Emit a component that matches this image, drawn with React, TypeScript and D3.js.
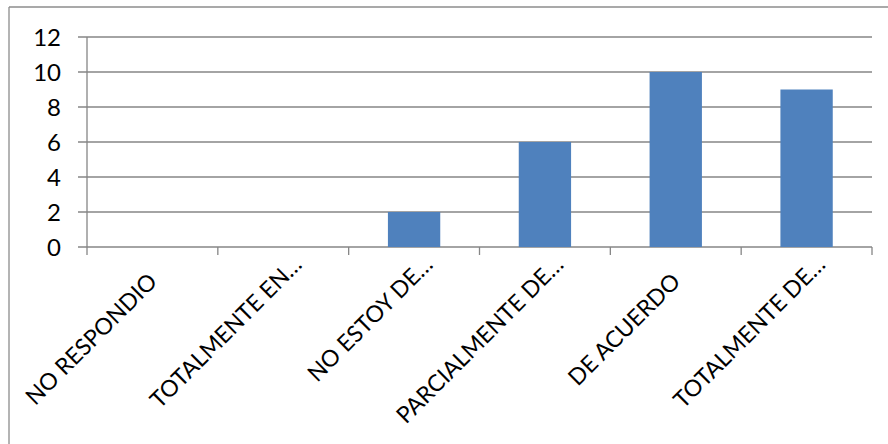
import React from "react";
import * as d3 from "d3";

const categories = [
  "NO RESPONDIO",
  "TOTALMENTE EN…",
  "NO ESTOY DE…",
  "PARCIALMENTE DE…",
  "DE ACUERDO",
  "TOTALMENTE DE…",
];
const values = [0, 0, 2, 6, 10, 9];
const yTicks = [0, 2, 4, 6, 8, 10, 12];

const W = 888;
const H = 444;
const plot = { left: 87, right: 872, top: 37, bottom: 247 };
const FONT = "Lato, 'Noto Sans', sans-serif";
const FS = 24;
const CAT_FS = 23;

export default function App() {
  const x = d3
    .scaleBand<string>()
    .domain(categories)
    .range([plot.left, plot.right])
    .padding(0);
  const y = d3.scaleLinear().domain([0, 12]).range([plot.bottom, plot.top]);
  const bw = x.bandwidth() * 0.4;
  const grid = "#868686";

  return (
    <svg
      width={W}
      height={H}
      style={{ position: "absolute", left: 0, top: 0, background: "#fff" }}
    >
      {/* outer frame (left and top edges) */}
      <line x1={9} y1={7} x2={W} y2={7} stroke="#8c8c8c" strokeWidth={1.3} />
      <line x1={9} y1={7} x2={9} y2={H} stroke="#8c8c8c" strokeWidth={1.3} />

      {/* horizontal gridlines and y labels */}
      {yTicks.map((t) => (
        <g key={t}>
          <line
            x1={plot.left - 9}
            x2={plot.right}
            y1={y(t)}
            y2={y(t)}
            stroke={grid}
            strokeWidth={1.3}
          />
          <text
            x={plot.left - 26}
            y={y(t)}
            dy="0.36em"
            textAnchor="end"
            fontFamily={FONT}
            fontSize={FS}
            fill="#000"
          >
            {t}
          </text>
        </g>
      ))}

      {/* y axis */}
      <line
        x1={plot.left}
        x2={plot.left}
        y1={plot.top}
        y2={plot.bottom + 8}
        stroke={grid}
        strokeWidth={1.3}
      />

      {/* category ticks */}
      {categories.map((c) => (
        <line
          key={"t" + c}
          x1={x(c)! + x.bandwidth()}
          x2={x(c)! + x.bandwidth()}
          y1={plot.bottom}
          y2={plot.bottom + 8}
          stroke={grid}
          strokeWidth={1.3}
        />
      ))}

      {/* bars */}
      {categories.map((c, i) => (
        <rect
          key={"b" + c}
          x={x(c)! + (x.bandwidth() - bw) / 2}
          y={y(values[i])}
          width={bw}
          height={y(0) - y(values[i])}
          fill="#4F81BD"
        />
      ))}

      {/* category labels, rotated; truncated ones sit a little higher */}
      {categories.map((c) => {
        const truncated = c.endsWith("…");
        const cx = x(c)! + x.bandwidth() / 2 + (truncated ? 20 : 6);
        const cy = plot.bottom + (truncated ? 19 : 36);
        return (
          <text
            key={"l" + c}
            transform={`translate(${cx},${cy}) rotate(-45)`}
            textAnchor="end"
            fontFamily={FONT}
            fontSize={CAT_FS}
            fill="#000"
          >
            {c}
          </text>
        );
      })}
    </svg>
  );
}
